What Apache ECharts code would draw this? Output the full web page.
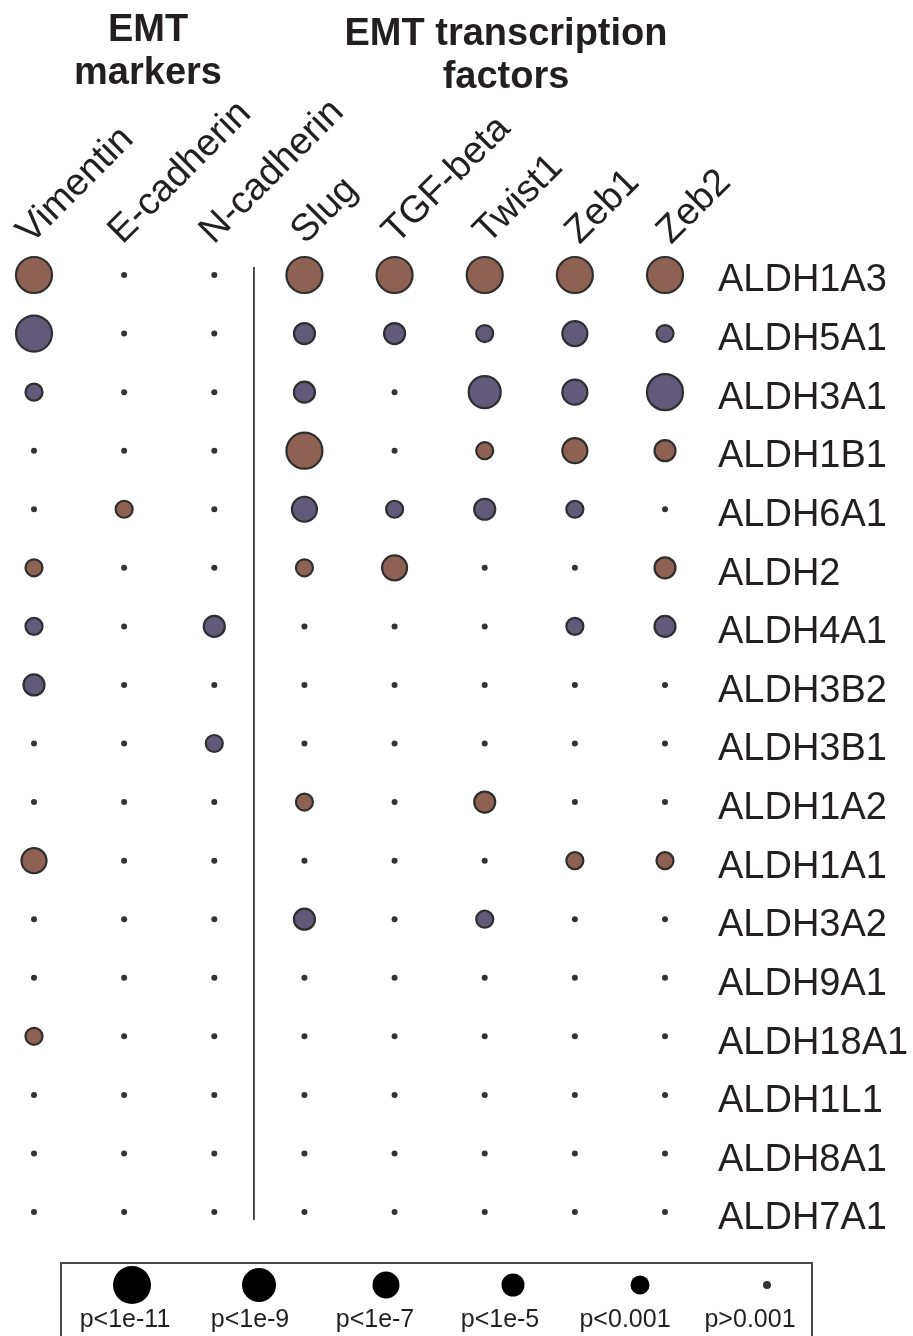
<!DOCTYPE html>
<html><head><meta charset="utf-8">
<script src="https://cdn.jsdelivr.net/npm/echarts@6/dist/echarts.min.js"></script>
<style>html,body{margin:0;padding:0;background:#fff}#c{width:913px;height:1336px}</style>
</head><body><div id="c"></div>
<script>
// ---- data ----
const columns = ['Vimentin','E-cadherin','N-cadherin','Slug','TGF-beta','Twist1','Zeb1','Zeb2'];
const genes = ['ALDH1A3','ALDH5A1','ALDH3A1','ALDH1B1','ALDH6A1','ALDH2','ALDH4A1','ALDH3B2','ALDH3B1','ALDH1A2','ALDH1A1','ALDH3A2','ALDH9A1','ALDH18A1','ALDH1L1','ALDH8A1','ALDH7A1'];
// signed significance level per gene: + = positive (brown), - = negative (purple)
// 5: p<1e-11, 4: p<1e-9, 3: p<1e-7, 2: p<1e-5, 1: p<0.001, 0: p>0.001
const vimentin  = [5,-5,-1,0,0,1,-1,-2,0,0,3,0,0,1,0,0,0];
const eCadherin = [0,0,0,0,1,0,0,0,0,0,0,0,0,0,0,0,0];
const nCadherin = [0,0,0,0,0,0,-2,0,-1,0,0,0,0,0,0,0,0];
const slug      = [5,-2,-2,5,-3,1,0,0,0,1,0,-2,0,0,0,0,0];
const tgfBeta   = [5,-2,0,0,-1,3,0,0,0,0,0,0,0,0,0,0,0];
const twist1    = [5,-1,-4,1,-2,0,0,0,0,2,0,-1,0,0,0,0,0];
const zeb1      = [5,-3,-3,3,-1,0,-1,0,0,0,1,0,0,0,0,0,0];
const zeb2      = [5,-1,-5,2,0,2,-2,0,0,0,1,0,0,0,0,0,0];
const columnValues = [vimentin,eCadherin,nCadherin,slug,tgfBeta,twist1,zeb1,zeb2];
const legendLabels = ['p<1e-11','p<1e-9','p<1e-7','p<1e-5','p<0.001','p>0.001'];
const legendLevels = [5,4,3,2,1,0];
const groupTitles = ['EMT\nmarkers','EMT transcription\nfactors'];
const separatorAfter = 2.44; // between N-cadherin and Slug

// ---- style ----
const SIZES = [6,17,21,25,32,36];
const BROWN='#8d6253', PURPLE='#625a7b', INK='#231f20', EDGE='#2e2e2e';
const FONT='Liberation Sans';

const pos=[], neg=[], ns=[];
columnValues.forEach((col,ci)=>col.forEach((v,ri)=>{
  const item=[ci, genes[ri], v];
  (v>0?pos:(v<0?neg:ns)).push(item);
}));
const sizeFn = d => SIZES[Math.abs(d[2])];
const hidden = {axisLine:{show:false}, axisTick:{show:false}, splitLine:{show:false}};

const chart = echarts.init(document.getElementById('c'));
chart.setOption({
  animation:false,
  backgroundColor:'#fff',
  textStyle:{fontFamily:FONT},
  title:[
    {text:groupTitles[0], left:143, top:4, textAlign:'center',
     textStyle:{fontFamily:FONT,fontSize:38,fontWeight:'bold',color:INK,lineHeight:43}},
    {text:groupTitles[1], left:501, top:8, textAlign:'center',
     textStyle:{fontFamily:FONT,fontSize:38,fontWeight:'bold',color:INK,lineHeight:43}}
  ],
  grid:[
    {left:34, right:248, top:275, bottom:124},   // dots
    {left:37, right:236, top:251, height:10},    // column headers
    {left:132, right:146, top:1270, height:30},  // legend dots
    {left:125, right:163, top:1300, height:1},   // legend labels
    {left:34, right:248, top:281, bottom:117}    // row labels
  ],
  xAxis:[
    {gridIndex:0, type:'value', min:0, max:7, show:false},
    Object.assign({gridIndex:1, type:'category', data:columns, boundaryGap:false, position:'top',
     axisLabel:{rotate:45, margin:0, interval:0, fontSize:38, color:INK, fontFamily:FONT, align:'left', verticalAlign:'bottom'}}, hidden),
    {gridIndex:2, type:'category', data:legendLabels, boundaryGap:false, show:false},
    Object.assign({gridIndex:3, type:'category', data:legendLabels, boundaryGap:false, position:'bottom',
     axisLabel:{margin:7, interval:0, fontSize:25, color:INK, fontFamily:FONT}}, hidden),
    {gridIndex:4, type:'value', show:false}
  ],
  yAxis:[
    {gridIndex:0, type:'category', data:genes, inverse:true, boundaryGap:false, show:false},
    {gridIndex:1, type:'value', show:false},
    {gridIndex:2, type:'value', min:0, max:1, show:false},
    {gridIndex:3, type:'value', show:false},
    Object.assign({gridIndex:4, type:'category', data:genes, inverse:true, boundaryGap:false, position:'right',
     axisLabel:{margin:53, interval:0, fontSize:38, color:INK, fontFamily:FONT, align:'left'}}, hidden)
  ],
  series:[
    {type:'scatter', xAxisIndex:0, yAxisIndex:0, data:ns, symbolSize:sizeFn,
     itemStyle:{color:'#333', opacity:1}},
    {type:'scatter', xAxisIndex:0, yAxisIndex:0, data:pos, symbolSize:sizeFn,
     itemStyle:{color:BROWN, borderColor:EDGE, borderWidth:2.2, opacity:1}},
    {type:'scatter', xAxisIndex:0, yAxisIndex:0, data:neg, symbolSize:sizeFn,
     itemStyle:{color:PURPLE, borderColor:EDGE, borderWidth:2.2, opacity:1}},
    {type:'scatter', xAxisIndex:2, yAxisIndex:2,
     data:legendLevels.map((lv,i)=>[legendLabels[i],0.5,lv]),
     symbolSize:d=>SIZES[d[2]]+2,
     itemStyle:{color:p=>p.data[2]===0?'#333':'#000', opacity:1}}
  ]
});
// separator between marker and transcription-factor groups, placed via the chart's own scales
const sx = chart.convertToPixel({xAxisIndex:0}, separatorAfter);
const y1 = chart.convertToPixel({yAxisIndex:0}, genes[0]) - 8;
const y2 = chart.convertToPixel({yAxisIndex:0}, genes[genes.length-1]) + 8;
chart.setOption({graphic:[
  {type:'rect', shape:{x:61,y:1263,width:751,height:100}, style:{fill:'none',stroke:'#4a4a4a',lineWidth:2}},
  {type:'line', shape:{x1:sx,y1:y1,x2:sx,y2:y2}, style:{stroke:INK,lineWidth:1.6}}
]});
</script></body></html>
